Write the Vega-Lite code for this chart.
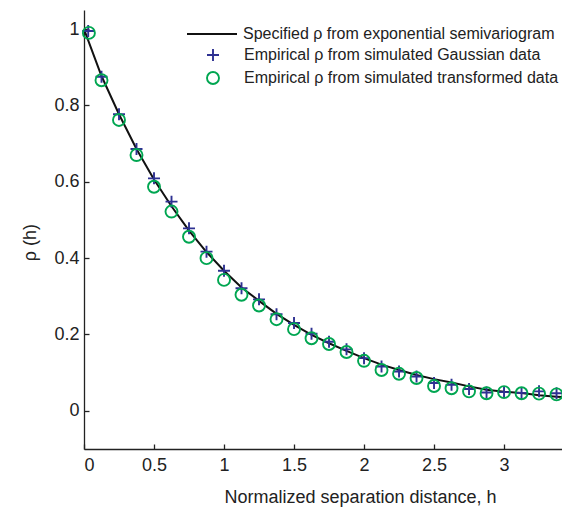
{
  "$schema": "https://vega.github.io/schema/vega-lite/v6.json",
  "width": 478,
  "height": 439,
  "autosize": {"type": "none"},
  "padding": {"left": 84, "top": 10, "right": 0, "bottom": 64},
  "background": "white",
  "config": {
    "view": {"stroke": null},
    "font": "Liberation Sans",
    "axis": {
      "grid": false,
      "domainColor": "#222222",
      "domainWidth": 1.3,
      "tickColor": "#222222",
      "tickWidth": 1.3,
      "tickSize": -5,
      "labelFont": "Liberation Sans",
      "labelFontSize": 18,
      "labelColor": "#222222",
      "titleFont": "Liberation Sans",
      "titleFontSize": 18,
      "titleFontWeight": "normal",
      "titleColor": "#222222"
    }
  },
  "datasets": {
    "curve": [
      {"h": 0.0, "rho": 1.0},
      {"h": 0.125, "rho": 0.877},
      {"h": 0.25, "rho": 0.777},
      {"h": 0.375, "rho": 0.686},
      {"h": 0.5, "rho": 0.606},
      {"h": 0.625, "rho": 0.536},
      {"h": 0.75, "rho": 0.472},
      {"h": 0.875, "rho": 0.416},
      {"h": 1.0, "rho": 0.367},
      {"h": 1.125, "rho": 0.323},
      {"h": 1.25, "rho": 0.288},
      {"h": 1.375, "rho": 0.254},
      {"h": 1.5, "rho": 0.225},
      {"h": 1.625, "rho": 0.199},
      {"h": 1.75, "rho": 0.177},
      {"h": 1.875, "rho": 0.157},
      {"h": 2.0, "rho": 0.138},
      {"h": 2.125, "rho": 0.121},
      {"h": 2.25, "rho": 0.107},
      {"h": 2.375, "rho": 0.094},
      {"h": 2.5, "rho": 0.083},
      {"h": 2.625, "rho": 0.074},
      {"h": 2.75, "rho": 0.064},
      {"h": 2.875, "rho": 0.055},
      {"h": 3.0, "rho": 0.05},
      {"h": 3.125, "rho": 0.047},
      {"h": 3.25, "rho": 0.041},
      {"h": 3.375, "rho": 0.037},
      {"h": 3.414, "rho": 0.036}
    ],
    "points": [
      {"h": 0.03, "rho": 0.995, "series": "Empirical ρ from simulated Gaussian data"},
      {"h": 0.125, "rho": 0.875, "series": "Empirical ρ from simulated Gaussian data"},
      {"h": 0.25, "rho": 0.777, "series": "Empirical ρ from simulated Gaussian data"},
      {"h": 0.375, "rho": 0.686, "series": "Empirical ρ from simulated Gaussian data"},
      {"h": 0.5, "rho": 0.609, "series": "Empirical ρ from simulated Gaussian data"},
      {"h": 0.625, "rho": 0.548, "series": "Empirical ρ from simulated Gaussian data"},
      {"h": 0.75, "rho": 0.478, "series": "Empirical ρ from simulated Gaussian data"},
      {"h": 0.875, "rho": 0.417, "series": "Empirical ρ from simulated Gaussian data"},
      {"h": 1.0, "rho": 0.367, "series": "Empirical ρ from simulated Gaussian data"},
      {"h": 1.125, "rho": 0.321, "series": "Empirical ρ from simulated Gaussian data"},
      {"h": 1.25, "rho": 0.292, "series": "Empirical ρ from simulated Gaussian data"},
      {"h": 1.375, "rho": 0.253, "series": "Empirical ρ from simulated Gaussian data"},
      {"h": 1.5, "rho": 0.23, "series": "Empirical ρ from simulated Gaussian data"},
      {"h": 1.625, "rho": 0.202, "series": "Empirical ρ from simulated Gaussian data"},
      {"h": 1.75, "rho": 0.181, "series": "Empirical ρ from simulated Gaussian data"},
      {"h": 1.875, "rho": 0.161, "series": "Empirical ρ from simulated Gaussian data"},
      {"h": 2.0, "rho": 0.138, "series": "Empirical ρ from simulated Gaussian data"},
      {"h": 2.125, "rho": 0.116, "series": "Empirical ρ from simulated Gaussian data"},
      {"h": 2.25, "rho": 0.103, "series": "Empirical ρ from simulated Gaussian data"},
      {"h": 2.375, "rho": 0.09, "series": "Empirical ρ from simulated Gaussian data"},
      {"h": 2.5, "rho": 0.073, "series": "Empirical ρ from simulated Gaussian data"},
      {"h": 2.625, "rho": 0.068, "series": "Empirical ρ from simulated Gaussian data"},
      {"h": 2.75, "rho": 0.057, "series": "Empirical ρ from simulated Gaussian data"},
      {"h": 2.875, "rho": 0.048, "series": "Empirical ρ from simulated Gaussian data"},
      {"h": 3.0, "rho": 0.049, "series": "Empirical ρ from simulated Gaussian data"},
      {"h": 3.125, "rho": 0.047, "series": "Empirical ρ from simulated Gaussian data"},
      {"h": 3.25, "rho": 0.051, "series": "Empirical ρ from simulated Gaussian data"},
      {"h": 3.375, "rho": 0.046, "series": "Empirical ρ from simulated Gaussian data"},
      {"h": 0.035, "rho": 0.99, "series": "Empirical ρ from simulated transformed data"},
      {"h": 0.125, "rho": 0.866, "series": "Empirical ρ from simulated transformed data"},
      {"h": 0.25, "rho": 0.762, "series": "Empirical ρ from simulated transformed data"},
      {"h": 0.375, "rho": 0.67, "series": "Empirical ρ from simulated transformed data"},
      {"h": 0.5, "rho": 0.587, "series": "Empirical ρ from simulated transformed data"},
      {"h": 0.625, "rho": 0.522, "series": "Empirical ρ from simulated transformed data"},
      {"h": 0.75, "rho": 0.456, "series": "Empirical ρ from simulated transformed data"},
      {"h": 0.875, "rho": 0.4, "series": "Empirical ρ from simulated transformed data"},
      {"h": 1.0, "rho": 0.343, "series": "Empirical ρ from simulated transformed data"},
      {"h": 1.125, "rho": 0.304, "series": "Empirical ρ from simulated transformed data"},
      {"h": 1.25, "rho": 0.276, "series": "Empirical ρ from simulated transformed data"},
      {"h": 1.375, "rho": 0.24, "series": "Empirical ρ from simulated transformed data"},
      {"h": 1.5, "rho": 0.214, "series": "Empirical ρ from simulated transformed data"},
      {"h": 1.625, "rho": 0.19, "series": "Empirical ρ from simulated transformed data"},
      {"h": 1.75, "rho": 0.175, "series": "Empirical ρ from simulated transformed data"},
      {"h": 1.875, "rho": 0.154, "series": "Empirical ρ from simulated transformed data"},
      {"h": 2.0, "rho": 0.131, "series": "Empirical ρ from simulated transformed data"},
      {"h": 2.125, "rho": 0.107, "series": "Empirical ρ from simulated transformed data"},
      {"h": 2.25, "rho": 0.097, "series": "Empirical ρ from simulated transformed data"},
      {"h": 2.375, "rho": 0.086, "series": "Empirical ρ from simulated transformed data"},
      {"h": 2.5, "rho": 0.065, "series": "Empirical ρ from simulated transformed data"},
      {"h": 2.625, "rho": 0.059, "series": "Empirical ρ from simulated transformed data"},
      {"h": 2.75, "rho": 0.051, "series": "Empirical ρ from simulated transformed data"},
      {"h": 2.875, "rho": 0.046, "series": "Empirical ρ from simulated transformed data"},
      {"h": 3.0, "rho": 0.049, "series": "Empirical ρ from simulated transformed data"},
      {"h": 3.125, "rho": 0.046, "series": "Empirical ρ from simulated transformed data"},
      {"h": 3.25, "rho": 0.045, "series": "Empirical ρ from simulated transformed data"},
      {"h": 3.375, "rho": 0.043, "series": "Empirical ρ from simulated transformed data"}
    ]
  },
  "layer": [
    {
      "data": {"name": "curve"},
      "mark": {"type": "line", "strokeWidth": 2, "clip": true},
      "encoding": {
        "x": {
          "field": "h", "type": "quantitative",
          "scale": {"domain": [0, 3.414], "nice": false, "zero": false},
          "axis": {
            "title": "Normalized separation distance, h",
            "values": [0, 0.5, 1, 1.5, 2, 2.5, 3],
            "format": "~g",
            "labelPadding": 12,
            "titleBaseline": "middle",
            "titleX": 276,
            "titleY": 48
          }
        },
        "y": {
          "field": "rho", "type": "quantitative",
          "scale": {"domain": [-0.1, 1.05], "nice": false, "zero": false},
          "axis": {
            "title": "ρ (h)",
            "values": [0, 0.2, 0.4, 0.6, 0.8, 1],
            "format": "~g",
            "labelPadding": 10,
            "titleBaseline": "middle",
            "titleX": -54,
            "titleY": 232
          }
        },
        "stroke": {
          "datum": "Specified ρ from exponential semivariogram",
          "type": "nominal",
          "scale": {"range": ["#111111"]},
          "legend": {
            "title": null,
            "orient": "none",
            "legendX": 102,
            "legendY": -2,
            "padding": 0,
            "symbolType": "stroke",
            "symbolSize": 2500,
            "symbolStrokeWidth": 2,
            "symbolStrokeColor": "#111111",
            "labelFont": "Liberation Sans",
            "labelFontSize": 16,
            "labelColor": "#222222",
            "labelOffset": 5,
            "labelLimit": 0
          }
        }
      }
    },
    {
      "data": {"name": "points"},
      "mark": {"type": "point", "filled": false, "size": 144, "strokeWidth": 1.9, "opacity": 1},
      "encoding": {
        "x": {"field": "h", "type": "quantitative"},
        "y": {"field": "rho", "type": "quantitative"},
        "color": {
          "field": "series", "type": "nominal",
          "scale": {
            "domain": ["Empirical ρ from simulated Gaussian data", "Empirical ρ from simulated transformed data"],
            "range": ["#2e3192", "#00a651"]
          },
          "legend": {
            "title": null,
            "orient": "none",
            "legendX": 121,
            "legendY": 37,
            "padding": 0,
            "labelFont": "Liberation Sans",
            "labelFontSize": 16,
            "labelColor": "#222222",
            "labelOffset": 23,
            "labelLimit": 0,
            "rowPadding": 3,
            "symbolSize": 144,
            "symbolStrokeWidth": 1.9,
            "symbolOpacity": 1
          }
        },
        "shape": {
          "field": "series", "type": "nominal",
          "scale": {
            "domain": ["Empirical ρ from simulated Gaussian data", "Empirical ρ from simulated transformed data"],
            "range": ["M-1,0H1M0,-1V1", "circle"]
          }
        }
      }
    }
  ]
}
